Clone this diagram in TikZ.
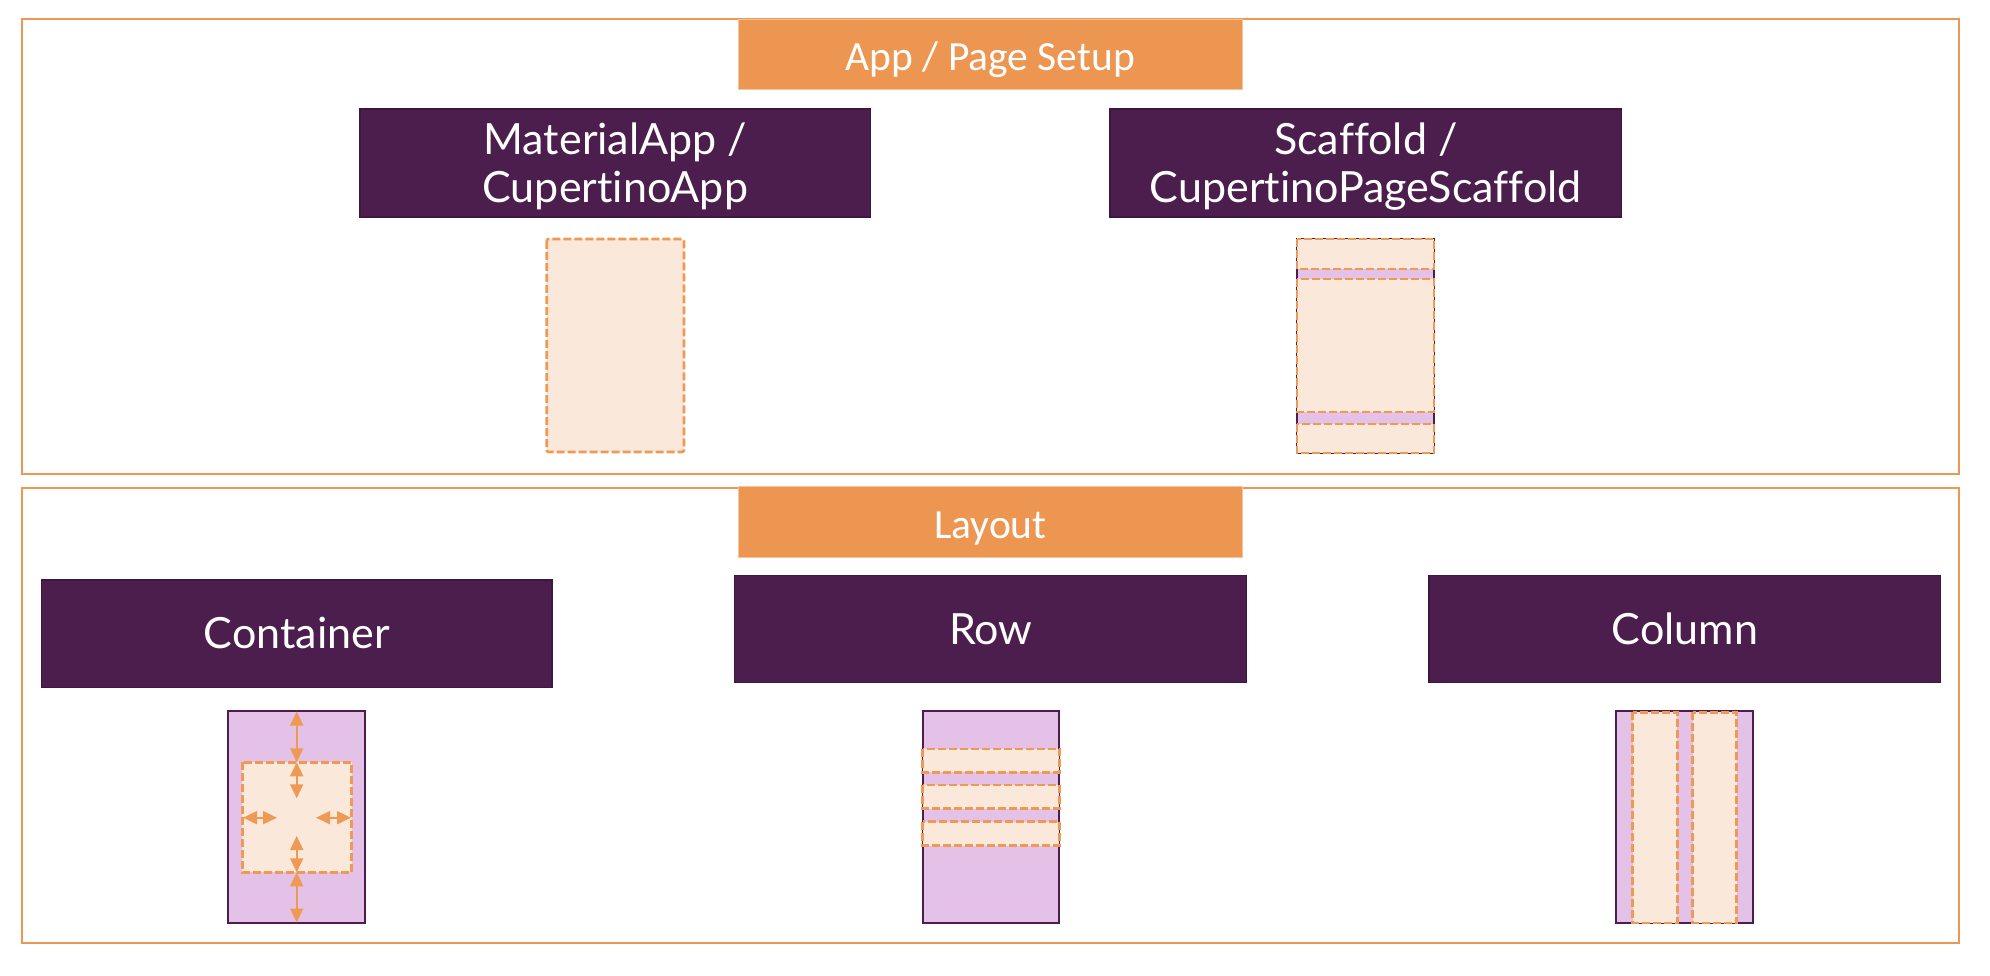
\documentclass[tikz,border=0pt]{standalone}
\usepackage{fontspec}
\setmainfont{Lato}[Ligatures=NoCommon]
\newfontfamily\hdrfont{Carlito}
\usetikzlibrary{arrows.meta}
\definecolor{frameor}{HTML}{EE9752}
\definecolor{hdror}{HTML}{ED9651}
\definecolor{pdark}{HTML}{4B1E4D}
\definecolor{pline}{HTML}{3E1640}
\definecolor{ppink}{HTML}{E4C1E7}
\definecolor{peach}{HTML}{FAE8DB}
\definecolor{dashor}{HTML}{EE9A55}
\begin{document}
\begin{tikzpicture}[x=1pt,y=-1pt,
  frame/.style={draw=frameor,line width=2.2pt},
  hdr/.style={fill=hdror,draw=hdror!55!white,line width=1pt,text=white,minimum width=504.7pt,minimum height=70pt,inner sep=0pt,font=\hdrfont\fontsize{41.5}{47}\selectfont,text height=26pt,text depth=0pt},
  pbox/.style={fill=pdark,draw=pline,line width=1.2pt,text=white,minimum width=511pt,minimum height=107pt,inner sep=0pt,align=center,font=\fontsize{43}{48}\selectfont,text height=30.5pt,text depth=0pt},
  twoline/.style={text height=78.5pt},
  dbox/.style={fill=peach,draw=dashor,line width=2.6pt,dash pattern=on 8pt off 3pt},
  shell/.style={fill=ppink,draw=pdark,line width=2pt},
  thinshell/.style={fill=ppink,draw=pdark,line width=1.2pt},
  arr/.style={draw=dashor,line width=1.8pt,{Triangle[width=13pt,length=14pt]}-{Triangle[width=13pt,length=14pt]}}
]
\useasboundingbox (0,0) rectangle (1990,976);
\fill[white] (0,0) rectangle (1990,976);

% frames
\draw[frame] (22,19) rectangle (1959,474);
\draw[frame] (22,487.7) rectangle (1959,943);

% section headers
\node[hdr] (hdrapp) at (990.4,54.7) {\raisebox{-3pt}{App / Page Setup}};
\node[hdr,minimum height=71.3pt] (hdrlay) at (990.4,521.7) {\raisebox{-3.5pt}{Layout}};

% widget boxes
\node[pbox,twoline,minimum width=510.6pt,minimum height=108pt] (mat) at (615.3,163) {MaterialApp /\\CupertinoApp};
\node[pbox,twoline,minimum width=511.7pt,minimum height=108pt] (scf) at (1365.8,163) {Scaffold /\\CupertinoPageScaffold};
\node[pbox,minimum width=510.7pt,minimum height=107.3pt] (cont) at (296.7,633.7) {Container};
\node[pbox,minimum width=511.7pt] (row) at (990.7,628.8) {Row};
\node[pbox,minimum width=511.7pt] (col) at (1684.9,628.8) {Column};

% MaterialApp illustration
\draw[dbox,rounded corners=2pt] (546.7,239) rectangle (684,452);

% Scaffold illustration
\draw[thinshell] (1297,239) rectangle (1434,453);
\draw[dbox] (1297,239) rectangle (1434,269);
\draw[dbox] (1297,279) rectangle (1434,412);
\draw[dbox] (1297,424) rectangle (1434,453);

% Container illustration
\draw[shell] (228.3,710.7) rectangle (365,923.3);
\draw[dbox] (242.3,762.3) rectangle (351.7,872.3);
\coordinate (ca1) at (296.7,711.5);
\coordinate (ca2) at (296.7,762.3);
\coordinate (ca3) at (296.7,798.3);
\coordinate (ca4) at (296.7,836);
\coordinate (ca5) at (296.7,872.3);
\coordinate (ca6) at (296.7,922.5);
\coordinate (ch1) at (243,817.7);
\coordinate (ch2) at (277,817.7);
\coordinate (ch3) at (316,817.7);
\coordinate (ch4) at (351,817.7);
\draw[arr] (ca1) -- (ca2);
\draw[arr] (ca2) -- (ca3);
\draw[arr] (ca4) -- (ca5);
\draw[arr] (ca5) -- (ca6);
\draw[arr] (ch1) -- (ch2);
\draw[arr] (ch3) -- (ch4);

% Row illustration
\draw[shell] (922.7,710.7) rectangle (1059.3,923.3);
\draw[dbox] (922.7,749) rectangle (1059.3,772.3);
\draw[dbox] (922.7,785) rectangle (1059.3,808.7);
\draw[dbox] (922.7,821.7) rectangle (1059.3,845.7);

% Column illustration
\draw[shell] (1616,710.7) rectangle (1752.7,923.3);
\draw[dbox] (1632.7,712.3) rectangle (1677.3,923);
\draw[dbox] (1692.7,712.3) rectangle (1736.7,923);
\end{tikzpicture}
\end{document}
